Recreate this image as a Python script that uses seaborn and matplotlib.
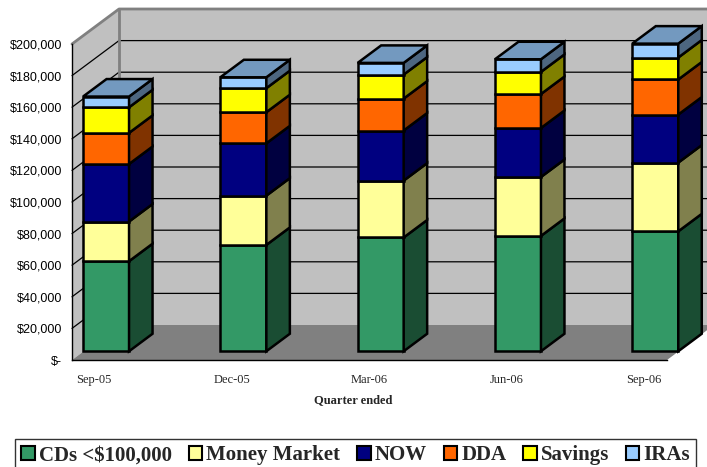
import matplotlib
matplotlib.use("Agg")
import matplotlib.pyplot as plt
import seaborn as sns
import numpy as np
from matplotlib.patches import Polygon, Patch
from matplotlib.ticker import FuncFormatter

# data (dollars)
quarters = ["Sep-05", "Dec-05", "Mar-06", "Jun-06", "Sep-06"]
series_names = ["CDs <$100,000", "Money Market", "NOW", "DDA", "Savings", "IRAs"]
cds = [57000, 67300, 72000, 73000, 75900]
money_market = [25100, 31200, 36000, 37300, 43500]
now_accts = [36400, 33100, 31700, 31000, 30400]
dda = [19700, 19700, 20200, 21500, 22200]
savings = [16200, 15200, 15200, 14000, 13900]
iras = [6800, 6900, 7400, 8000, 8800]
y_ticks = list(range(0, 200001, 20000))

front_colors = ["#339966", "#FFFF99", "#000080", "#FF6600", "#FFFF00", "#99CCFF"]

sns.set_style("white")
plt.rcParams["font.family"] = ["Liberation Sans", "DejaVu Sans"]
SERIF = ["Liberation Serif", "DejaVu Serif"]


def shade(hex_color, k):
    rgb = np.array(matplotlib.colors.to_rgb(hex_color))
    return tuple(rgb * k)


fig = plt.figure(figsize=(7.07, 4.67), dpi=100)
# axes = front plane of the 3d box
ax = fig.add_axes([72 / 707, 107 / 467, 595 / 707, 316 / 467])
ax.set_facecolor("none")
x0, x1 = -0.1624, 4.171
ax.set_xlim(x0, x1)
ax.set_ylim(0, 200000)

# full depth of the box in data units
DX = 47 / 137.3
DY = 35 * 200000 / 316

# walls and floor
wall = "#C0C0C0"
ax.add_patch(Polygon([(x0 + DX, DY), (x1 + DX + 1, DY), (x1 + DX + 1, 200000 + DY),
                      (x0 + DX, 200000 + DY)], closed=True, fc=wall, ec="none",
                     zorder=0.5, clip_on=False))
ax.add_patch(Polygon([(x0, 0), (x0, 200000), (x0 + DX, 200000 + DY), (x0 + DX, DY)],
                     closed=True, fc=wall, ec="none", zorder=0.5, clip_on=False))
ax.add_patch(Polygon([(x0, 0), (x1, 0), (x1 + DX, DY), (x0 + DX, DY)],
                     closed=True, fc="#808080", ec="none", zorder=0.5, clip_on=False))

# gridlines on left wall and back wall
for v in y_ticks[1:-1]:
    ax.plot([x0, x0 + DX, x1 + DX + 1], [v, v + DY, v + DY], color="black",
            lw=0.9, zorder=0.8, clip_on=False)
# wall edges
ax.plot([x0, x0 + DX, x1 + DX + 1], [200000, 200000 + DY, 200000 + DY],
        color="#808080", lw=2.0, zorder=0.9, clip_on=False)
ax.plot([x0 + DX, x0 + DX], [DY, 200000 + DY], color="#808080", lw=2.0,
        zorder=0.9, clip_on=False)

# stacked 3d bars: front face at depth 0.25, back at 0.75
layers = [cds, money_market, now_accts, dda, savings, iras]
width = 0.335
ox, oy = 0.25 * DX, 0.25 * DY
bx, by = 0.5 * DX, 0.5 * DY
xs = np.arange(len(quarters))
bottom = np.zeros(len(quarters))
edge_lw = 1.8
for li, (vals, col) in enumerate(zip(layers, front_colors)):
    vals = np.array(vals, dtype=float)
    bars = ax.bar(xs + ox, vals, width=width, bottom=bottom + oy, color=col,
                  edgecolor="black", linewidth=edge_lw, zorder=3)
    for b in bars:
        b.set_clip_on(False)
        b.set_joinstyle("miter")
    for i in range(len(xs)):
        xr = xs[i] + ox + width / 2
        yb = bottom[i] + oy
        yt = yb + vals[i]
        ax.add_patch(Polygon([(xr, yb), (xr + bx, yb + by), (xr + bx, yt + by), (xr, yt)],
                             closed=True, fc=shade(col, 0.5), ec="black", lw=edge_lw,
                             zorder=3, clip_on=False, joinstyle="miter"))
        if li == len(layers) - 1:
            xl = xr - width
            ax.add_patch(Polygon([(xl, yt), (xr, yt), (xr + bx, yt + by), (xl + bx, yt + by)],
                                 closed=True, fc=shade(col, 0.75), ec="black", lw=edge_lw,
                                 zorder=3, clip_on=False, joinstyle="miter"))
    bottom = bottom + vals

# axes styling
for s in ["top", "right"]:
    ax.spines[s].set_visible(False)
for s in ["left", "bottom"]:
    ax.spines[s].set_color("black")
    ax.spines[s].set_linewidth(1.0)
    ax.spines[s].set_zorder(1)

ax.set_yticks(y_ticks)
ax.yaxis.set_major_formatter(FuncFormatter(lambda v, p: "$-" if v == 0 else f"${v:,.0f}"))
ax.tick_params(axis="y", direction="out", length=4, width=0.8, pad=3,
               labelsize=9, colors="black")
for t in ax.get_yticklabels():
    t.set_family(["Liberation Sans", "DejaVu Sans"])

ax.set_xticks(xs)
ax.set_xticklabels(quarters, family=SERIF, fontsize=9)
ax.set_xticks(xs + x0, minor=True)
ax.tick_params(axis="x", which="major", length=0, pad=10)
ax.tick_params(axis="x", which="minor", direction="out", length=5, width=0.8)

ax.set_xlabel("Quarter ended", family=SERIF, fontsize=9, fontweight="bold")
ax.xaxis.set_label_coords((353 - 72) / 595, -(394 - 360) / 316)

handles = [Patch(facecolor=c, edgecolor="black", linewidth=1.5) for c in front_colors]
leg = fig.legend(handles, series_names, loc="upper left",
                 bbox_to_anchor=(15 / 707, 1 - 439 / 467), ncol=6,
                 prop={"family": SERIF, "weight": "bold", "size": 15},
                 handlelength=0.65, handleheight=0.65, handletextpad=0.2,
                 columnspacing=0.8, borderpad=0.3, borderaxespad=0,
                 frameon=True, fancybox=False)
leg.get_frame().set_edgecolor("black")
leg.get_frame().set_linewidth(1.0)

fig.savefig("out.png", dpi=100, facecolor="white")
